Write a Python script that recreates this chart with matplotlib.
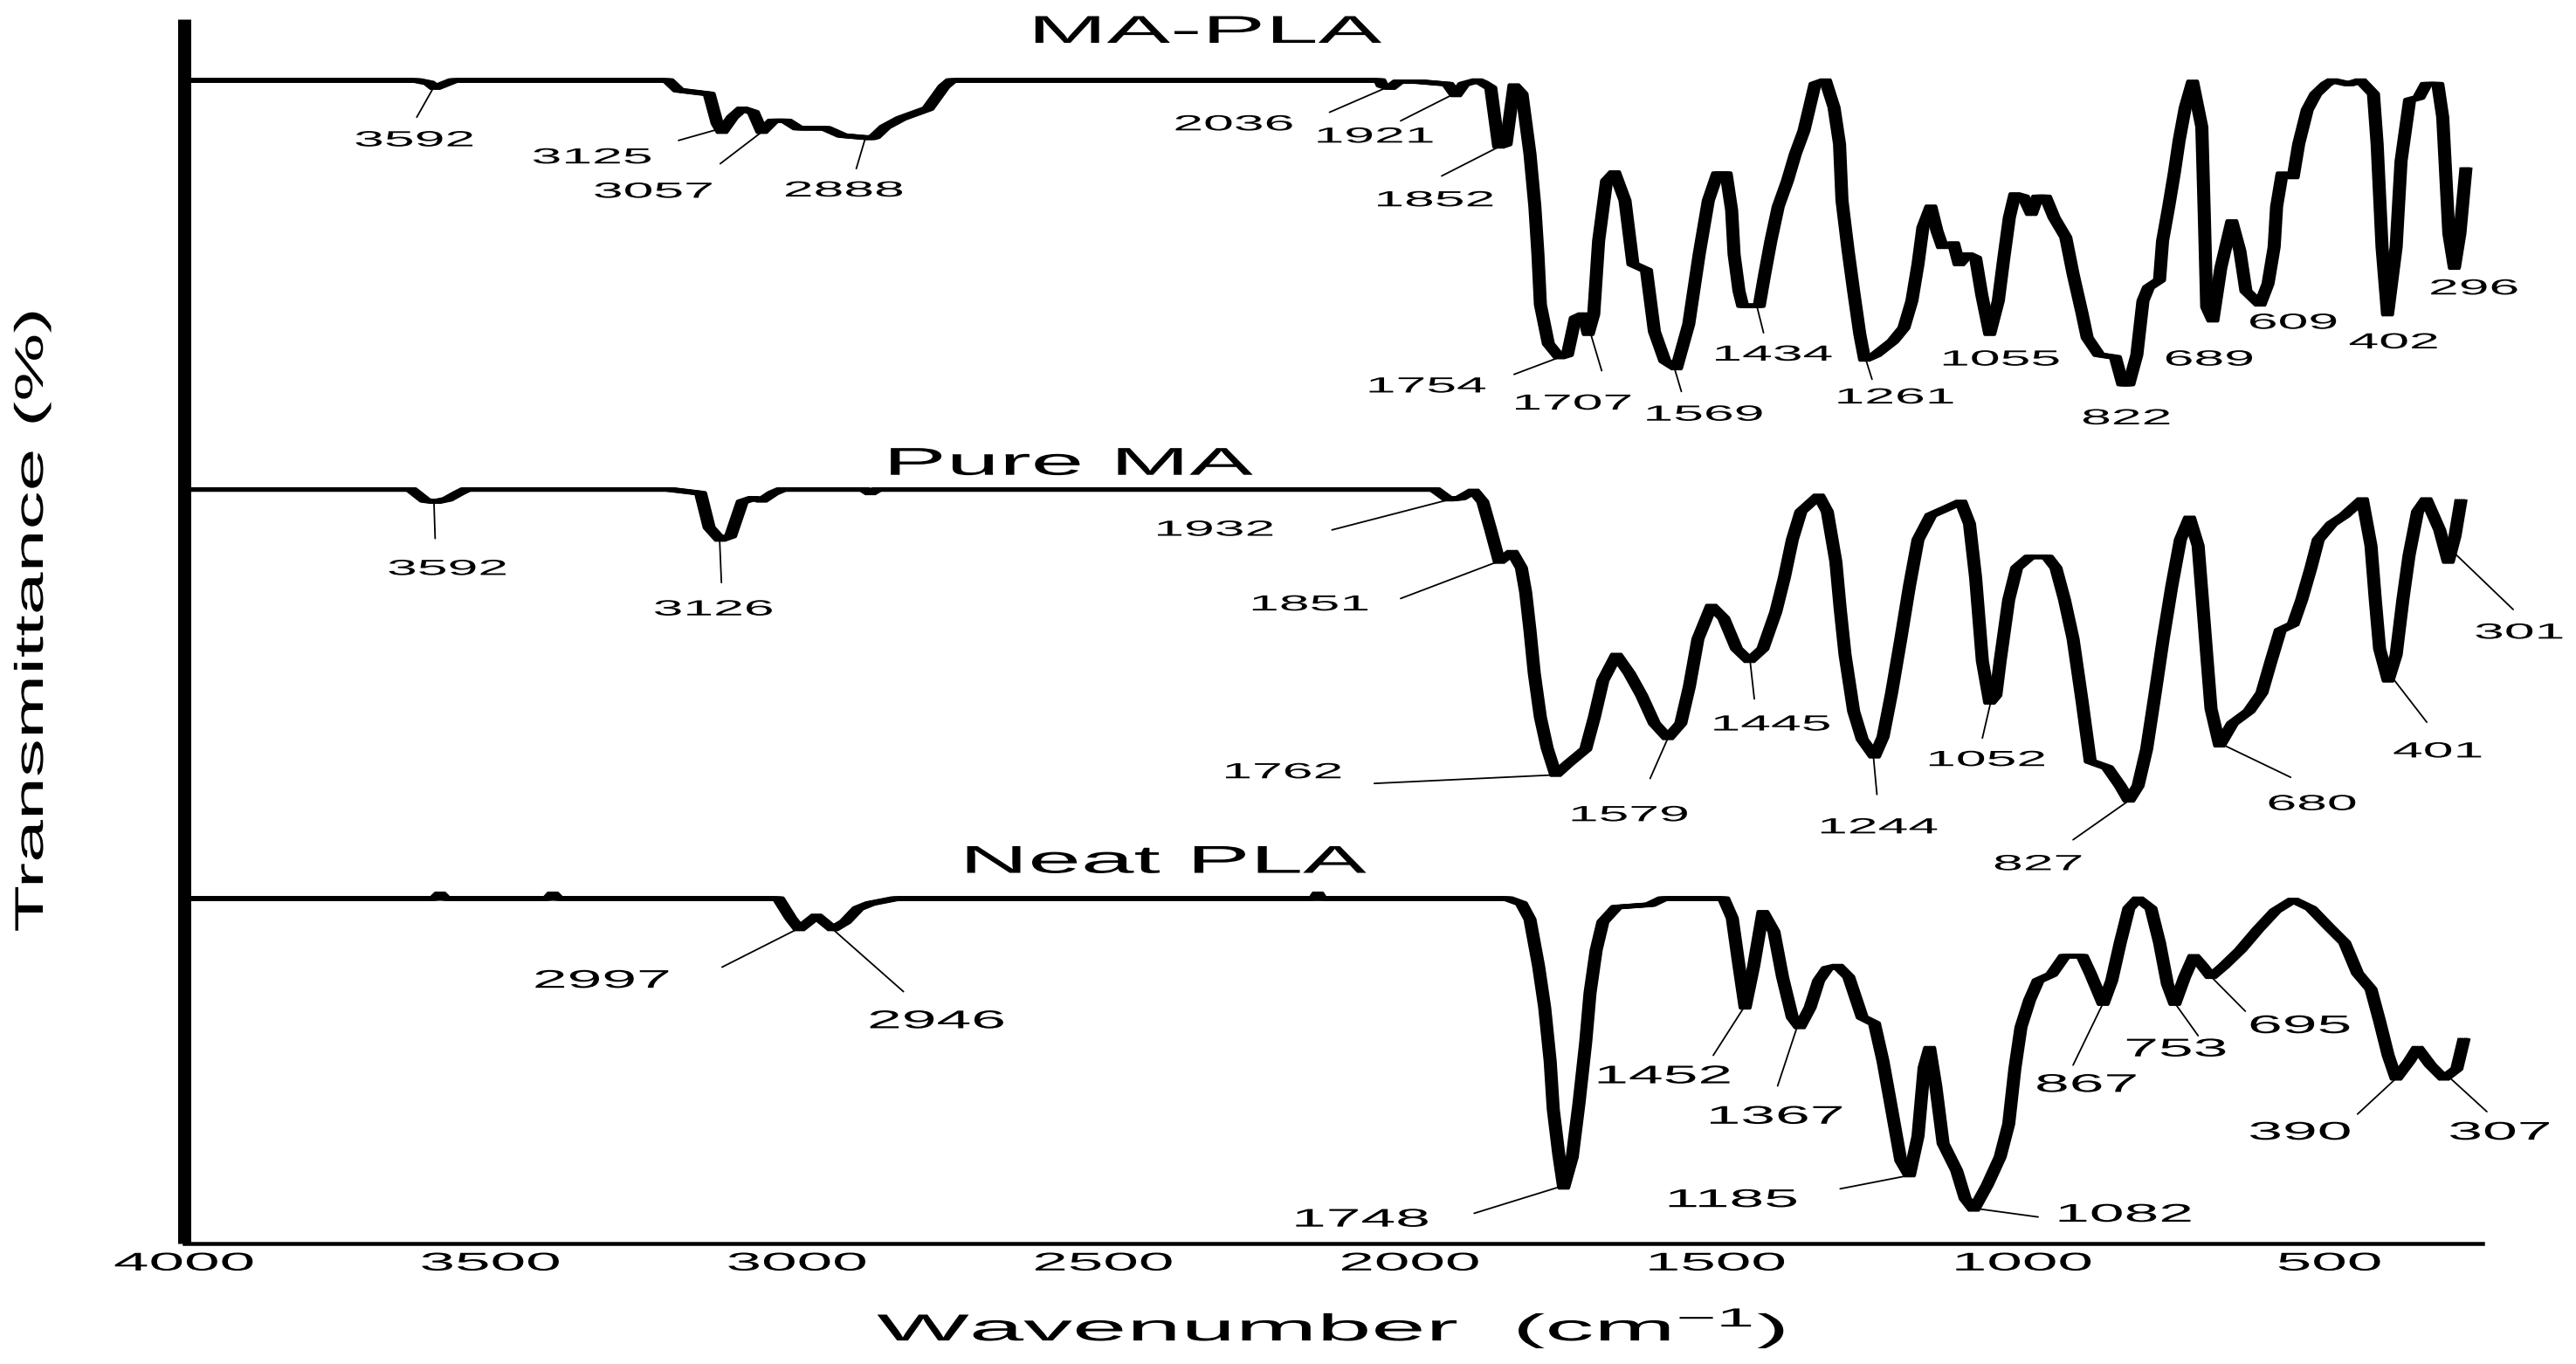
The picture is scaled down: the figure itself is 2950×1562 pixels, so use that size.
import numpy as np
import matplotlib
matplotlib.use("Agg")
import matplotlib.pyplot as plt
import matplotlib.patheffects as pe
from matplotlib.transforms import Affine2D

plt.rcParams['font.family'] = ['Liberation Sans', 'DejaVu Sans']
plt.rcParams['mathtext.fontset'] = 'custom'
plt.rcParams['mathtext.rm'] = 'Liberation Sans'
plt.rcParams['mathtext.it'] = 'Liberation Sans:italic'
plt.rcParams['mathtext.bf'] = 'Liberation Sans:bold'

# ---------------- data (offset transmittance, arbitrary units) ----------------
MAPLA_WN = [4000, 3620, 3600, 3590, 3575, 3560, 3210, 3193, 3143, 3130, 3122, 3105, 3089, 3071,
            3057, 3039, 3017, 2998, 2953, 2926, 2880, 2873, 2856, 2830, 2786, 2773, 2760, 2748,
            2049, 2045, 2032, 2019, 1985, 1938, 1925, 1912, 1890, 1881, 1868, 1855, 1843, 1830,
            1817, 1804, 1796, 1791, 1787, 1774, 1756, 1743, 1730, 1717, 1709, 1700, 1692, 1679,
            1666, 1649, 1636, 1614, 1601, 1584, 1565, 1545, 1528, 1513, 1498, 1484, 1475, 1471,
            1463, 1457, 1430, 1421, 1411, 1399, 1384, 1371, 1357, 1348, 1339, 1322, 1308, 1299,
            1295, 1285, 1276, 1266, 1258, 1240, 1212, 1194, 1181, 1171, 1163, 1150, 1140, 1131,
            1113, 1104, 1090, 1077, 1067, 1054, 1040, 1031, 1022, 1013, 999, 986, 976, 963, 949,
            930, 918, 903, 895, 876, 849, 837, 827, 814, 804, 795, 777, 772, 762, 753, 745, 735,
            723, 708, 704, 700, 690, 677, 659, 646, 636, 613, 600, 590, 586, 577, 559, 550, 536,
            522, 505, 495, 468, 449, 428, 422, 414, 405, 391, 383, 369, 354, 342, 323, 315, 305,
            296, 287, 277]
MAPLA_T = [95.0, 95.0, 94.8, 94.4, 94.7, 95.0, 95.0, 94.2, 93.9, 91.5, 90.8, 92.0, 92.7, 92.4,
           90.8, 91.7, 91.7, 91.1, 91.1, 90.5, 90.3, 90.4, 91.2, 91.9, 92.7, 93.6, 94.5, 95.0,
           95.0, 94.6, 94.4, 94.9, 94.9, 94.7, 93.8, 94.7, 95.0, 94.8, 94.4, 89.6, 89.8, 94.6,
           93.9, 89.0, 84.7, 80.8, 76.7, 73.5, 72.4, 72.6, 75.6, 75.9, 74.3, 75.9, 81.9, 86.8,
           87.5, 85.2, 80.0, 79.5, 74.5, 72.1, 71.5, 75.1, 80.8, 85.2, 87.4, 87.4, 84.4, 80.8,
           77.8, 76.6, 76.6, 79.2, 81.9, 84.7, 86.8, 89.0, 90.9, 92.8, 94.7, 95.0, 92.8, 89.8,
           85.2, 81.1, 77.8, 74.3, 72.2, 72.6, 73.7, 74.8, 77.0, 80.0, 83.0, 84.7, 82.7, 81.4,
           81.7, 80.0, 80.8, 80.5, 77.5, 74.3, 77.0, 80.5, 83.8, 85.7, 85.5, 84.1, 85.5, 85.5, 83.8,
           82.2, 79.2, 75.9, 74.0, 72.6, 72.4, 70.2, 70.2, 72.6, 77.0, 78.1, 78.7, 81.9, 84.7, 87.4, 90.1, 92.8,
           94.9, 91.2, 84.1, 76.5, 75.4, 79.7, 83.5, 81.1, 77.8, 76.7, 78.4, 81.4, 84.7, 87.4, 87.1, 89.8, 92.6,
           93.9, 94.7, 95.0, 94.7, 95.0, 93.9, 89.8, 81.4, 75.9, 81.4, 88.4, 93.4, 93.6, 94.7, 94.7, 92.0, 82.5,
           79.7, 82.5, 87.9]

PUREMA_WN = [4000, 3629, 3606, 3589, 3570, 3552, 3540, 3207, 3157, 3143, 3125, 3108, 3089, 3071,
             3057, 3039, 3025, 2889, 2880, 2870, 1959, 1937, 1917, 1896, 1881, 1868, 1854, 1833,
             1818, 1811, 1804, 1797, 1787, 1776, 1762, 1742, 1713, 1699, 1685, 1663, 1642, 1622,
             1601, 1579, 1558, 1544, 1530, 1508, 1488, 1467, 1446, 1424, 1403, 1389, 1376, 1362,
             1333, 1319, 1305, 1298, 1290, 1276, 1262, 1242, 1228, 1214, 1199, 1185, 1171, 1150,
             1123, 1101, 1087, 1077, 1066, 1054, 1044, 1037, 1023, 1010, 989, 960, 946, 932, 918,
             903, 890, 862, 841, 827, 812, 798, 784, 771, 757, 743, 728, 714, 707, 700, 693, 679,
             658, 631, 610, 595, 580, 559, 545, 530, 518, 496, 475, 446, 432, 425, 418, 404, 391,
             380, 370, 356, 342, 320, 306, 295, 285]
PUREMA_T = [61.6, 61.6, 60.7, 60.6, 60.8, 61.3, 61.6, 61.6, 61.3, 58.5, 57.5, 57.8, 60.6, 60.9,
            60.7, 61.3, 61.6, 61.6, 61.3, 61.6, 61.6, 60.8, 60.9, 61.5, 60.6, 58.3, 55.7, 56.5,
            55.2, 53.2, 50.1, 46.6, 43.0, 40.5, 38.3, 39.2, 40.4, 43.0, 46.0, 48.1, 46.6, 44.8,
            42.5, 41.3, 42.5, 45.5, 49.4, 52.1, 51.1, 48.6, 47.6, 48.6, 51.6, 54.4, 57.5, 59.8,
            61.1, 59.8, 55.7, 51.9, 48.1, 43.5, 41.2, 39.8, 41.4, 45.0, 49.4, 53.7, 57.5, 59.5,
            60.1, 60.6, 58.8, 54.4, 47.6, 44.2, 44.8, 47.6, 52.6, 55.2, 56.1, 56.1, 55.2, 52.6, 49.4,
            44.2, 39.4, 38.9, 37.4, 36.2, 37.4, 40.4, 45.0, 49.4, 53.7, 57.5, 59.3, 57.0, 52.6, 48.1, 43.7, 40.7,
            42.5, 43.5, 45.0, 47.6, 50.1, 50.6, 52.6, 55.2, 57.5, 58.8, 59.5, 60.8, 57.0, 52.6, 48.6, 46.0, 48.1,
            52.6, 56.2, 59.8, 60.8, 58.3, 55.7, 57.8, 60.8]

NEATPLA_WN = [4000, 3590, 3582, 3574, 3405, 3398, 3390, 3030, 3010, 2996, 2968, 2941, 2921, 2900,
              2880, 2839, 2155, 2150, 2145, 1840, 1818, 1804, 1790, 1780, 1771, 1766, 1757, 1749,
              1735, 1724, 1713, 1706, 1696, 1685, 1663, 1608, 1587, 1488, 1474, 1463, 1453, 1439,
              1424, 1406, 1392, 1376, 1364, 1347, 1333, 1319, 1302, 1284, 1262, 1242, 1228, 1214,
              1199, 1185, 1171, 1161, 1152, 1142, 1130, 1108, 1094, 1080, 1058, 1037, 1023, 1013,
              1003, 989, 975, 953, 932, 903, 890, 869, 855, 841, 827, 812, 791, 777, 764, 752, 736,
              721, 707, 693, 672, 645, 616, 588, 559, 530, 503, 475, 454, 432, 418, 404, 391, 370,
              356, 335, 313, 292, 280]
NEATPLA_T = [28.2, 28.2, 28.6, 28.2, 28.2, 28.6, 28.2, 28.2, 26.6, 25.7, 26.8, 25.7, 26.3, 27.4,
             27.8, 28.2, 28.2, 28.6, 28.2, 28.2, 27.8, 26.5, 22.7, 19.3, 14.9, 11.0, 7.3, 4.6,
             7.1, 11.5, 16.5, 20.5, 24.0, 26.3, 27.5, 27.7, 28.2, 28.2, 26.6, 22.7, 19.3, 22.7,
             27.1, 25.5, 21.8, 18.5, 17.7, 19.3, 21.5, 22.5, 22.7, 21.8, 18.5, 18.0, 14.9, 11.0,
             6.8, 5.6, 8.8, 14.4, 16.0, 12.9, 8.2, 6.0, 3.7, 2.8, 4.8, 7.1, 9.8, 14.3,
             17.7, 19.9, 21.5, 22.0, 23.5, 23.5, 22.1, 19.6, 21.5, 24.6, 27.4, 28.2, 27.4, 24.6, 21.2, 19.6, 21.8,
             23.5, 22.7, 21.8, 22.7, 24.0, 25.7, 27.2, 28.1, 27.4, 26.0, 24.6, 22.1, 20.8, 18.2, 15.4, 13.5, 14.9,
             16.0, 14.6, 13.5, 14.3, 16.8]

SERIES_NAMES = ['MA-PLA', 'Pure MA', 'Neat PLA']

MAPLA_PEAKS = [3592, 3125, 3057, 2888, 2036, 1921, 1852, 1754, 1707, 1569, 1434, 1261, 1055,
               822, 689, 609, 402, 296]
PUREMA_PEAKS = [3592, 3126, 1932, 1851, 1762, 1579, 1445, 1244, 1052, 827, 680, 401, 301]
NEATPLA_PEAKS = [2997, 2946, 1748, 1452, 1367, 1185, 1082, 867, 753, 695, 390, 307]

XTICKS = [4000, 3500, 3000, 2500, 2000, 1500, 1000, 500]

# ---------------- layout (label anchors and leader-line tails) ----------------
MAPLA_LABEL_POS = [(3624, 90.3), (3334, 88.9), (3234, 86.1), (2923, 86.2), (2287, 91.6),
                   (2057, 90.6), (1959, 85.4), (1972, 70.2), (1734, 68.8), (1520, 67.9),
                   (1407, 72.8), (1208, 69.3), (1036, 72.4), (831, 67.6), (696, 72.4),
                   (559, 75.4), (395, 73.8), (264, 78.2)]
MAPLA_TAILS = [(3620, 92.0), (3193, 90.1), (3125, 88.2), (2903, 87.8), (2131, 92.4),
               (2015, 91.7), (1948, 87.2), (1830, 71.0), (1687, 71.3), (1557, 69.6),
               (1423, 74.4), (1246, 70.6), None, None, None, None, None, None]
PUREMA_LABEL_POS = [(3570, 55.3), (3136, 52.0), (2318, 58.5), (2163, 52.4), (2207, 38.7),
                    (1642, 35.2), (1410, 42.6), (1235, 34.2), (1059, 39.7), (975, 31.2),
                    (528, 36.1), (323, 40.4), (190, 50.1)]
PUREMA_TAILS = [(3590, 57.6), (3123, 54.0), (2127, 58.3), (2015, 52.7), (2058, 37.6),
                (1608, 38.0), (1438, 44.5), (1238, 36.7), (1066, 41.3), (918, 33.0),
                (563, 38.1), (341, 42.6), (200, 51.8)]
NEATPLA_LABEL_POS = [(3318, 21.7), (2772, 18.4), (2079, 2.2), (1586, 13.9), (1403, 10.6),
                     (1474, 3.8), (834, 2.6), (896, 13.2), (750, 16.1), (548, 18.0),
                     (548, 9.3), (222, 9.3)]
NEATPLA_TAILS = [(3122, 22.6), (2826, 20.6), (1895, 2.5), (1505, 15.4), (1400, 12.9),
                 (1298, 4.5), (975, 2.2), (918, 14.6), (714, 17.0), (637, 19.0),
                 (454, 10.6), (243, 10.8)]
TITLE_POS = [(2331, 98.07), (2554, 62.8), (2399, 30.3)]


class Stretch(pe.AbstractPathEffect):
    """Draw text stretched about its own centre (the reference text is wide)."""
    def __init__(self, sx=1.0, sy=1.0):
        super().__init__()
        self.sx, self.sy = sx, sy

    def draw_path(self, renderer, gc, tpath, affine, rgbFace=None):
        bb = tpath.get_extents(affine)
        cx, cy = (bb.x0 + bb.x1) / 2, (bb.y0 + bb.y1) / 2
        aff = affine + Affine2D().translate(-cx, -cy).scale(self.sx, self.sy).translate(cx, cy)
        renderer.draw_path(gc, tpath, aff, rgbFace)


fig = plt.figure(figsize=(29.5, 15.62), dpi=100)
fig.patch.set_facecolor('white')
ax = fig.add_axes([0.07136, 0.08803, 0.96373 - 0.07136, 0.98592 - 0.08803])
ax.set_xlim(4000, 250)
ax.set_ylim(0, 100)

smear = [pe.Stroke(offset=(dx, 0)) for dx in (-3.6, -1.8, 1.8, 3.6)] + [pe.Normal()]

series = [(MAPLA_WN, MAPLA_T, MAPLA_PEAKS, MAPLA_LABEL_POS, MAPLA_TAILS, 18, 2.5),
          (PUREMA_WN, PUREMA_T, PUREMA_PEAKS, PUREMA_LABEL_POS, PUREMA_TAILS, 18, 2.5),
          (NEATPLA_WN, NEATPLA_T, NEATPLA_PEAKS, NEATPLA_LABEL_POS, NEATPLA_TAILS, 21, 2.45)]

for name, (wn, t, peaks, lpos, tails, fs, sx), tpos in zip(SERIES_NAMES, series, TITLE_POS):
    wn = np.asarray(wn, float)
    t = np.asarray(t, float)
    ln, = ax.plot(wn, t, color='black', lw=3.6, solid_joinstyle='round',
                  solid_capstyle='butt', label=name)
    ln.set_path_effects(smear)
    for pk, (lx, ly), tail in zip(peaks, lpos, tails):
        if tail is not None:
            yk = np.interp(pk, wn[::-1], t[::-1])
            ax.annotate('', xy=(pk, yk), xytext=tail,
                        arrowprops=dict(arrowstyle='-', color='black', lw=1.3,
                                        shrinkA=0, shrinkB=0))
        txt = ax.text(lx, ly, str(pk), fontsize=fs, ha='center', va='center_baseline',
                      color='black')
        txt.set_path_effects([Stretch(sx, 1.0)])
    ttl = ax.text(tpos[0], tpos[1], name, fontsize=32, ha='center', va='baseline',
                  color='black')
    ttl.set_path_effects([Stretch(2.45, 1.0)])

# axes styling
for s in ('top', 'right'):
    ax.spines[s].set_visible(False)
ax.spines['left'].set_linewidth(10.8)
ax.spines['left'].set_capstyle('butt')
ax.spines['bottom'].set_linewidth(3.24)
ax.set_yticks([])
ax.set_xticks(XTICKS)
ax.set_xticklabels([str(v) for v in XTICKS])
ax.tick_params(axis='x', length=0, pad=6, labelsize=21)
for lbl in ax.get_xticklabels():
    lbl.set_path_effects([Stretch(2.5, 1.0)])

ax.set_xlabel(r'Wavenumber  (cm$^{\mathregular{-1}}$)', fontsize=31, va='baseline', ha='center')
ax.xaxis.set_label_coords(0.499, -0.0791)
ax.xaxis.label.set_path_effects([Stretch(2.6, 1.0)])

ax.set_ylabel('Transmittance (%)', fontsize=33, va='center', ha='center')
ax.yaxis.set_label_coords(-0.0659, 0.509)
ax.yaxis.label.set_path_effects([Stretch(1.0, 1.92)])

fig.savefig('out.png', dpi=100, facecolor='white')
